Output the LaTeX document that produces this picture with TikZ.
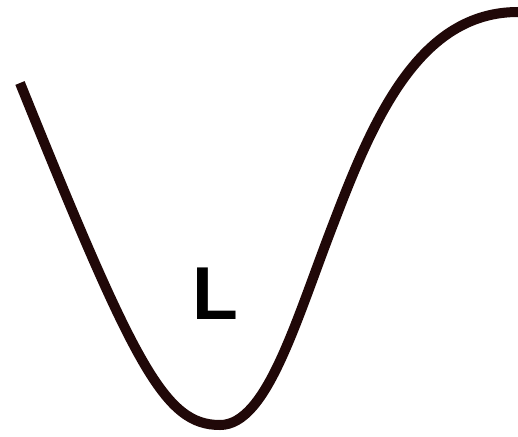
\documentclass[tikz,border=0pt]{standalone}
\usepackage{fontspec}
\setmainfont{Liberation Sans}
\usepackage{tikz}

\begin{document}
\begin{tikzpicture}[x=1pt,y=-1pt,well/.style={draw=wellcol,line width=10pt},
  lbl/.style={inner sep=0pt,font=\fontsize{75}{75}\selectfont\bfseries}]
\definecolor{wellcol}{HTML}{200808}
\useasboundingbox (0,0) rectangle (518,436);
\draw[well] (20,83) .. controls (135,368) and (165,425) .. (220,425)
  .. controls (267,425) and (296,320) .. (334,222)
  .. controls (374,117) and (420,12) .. (518,12);
\node[lbl] (L) at (215,294) {L};
\end{tikzpicture}
\end{document}
